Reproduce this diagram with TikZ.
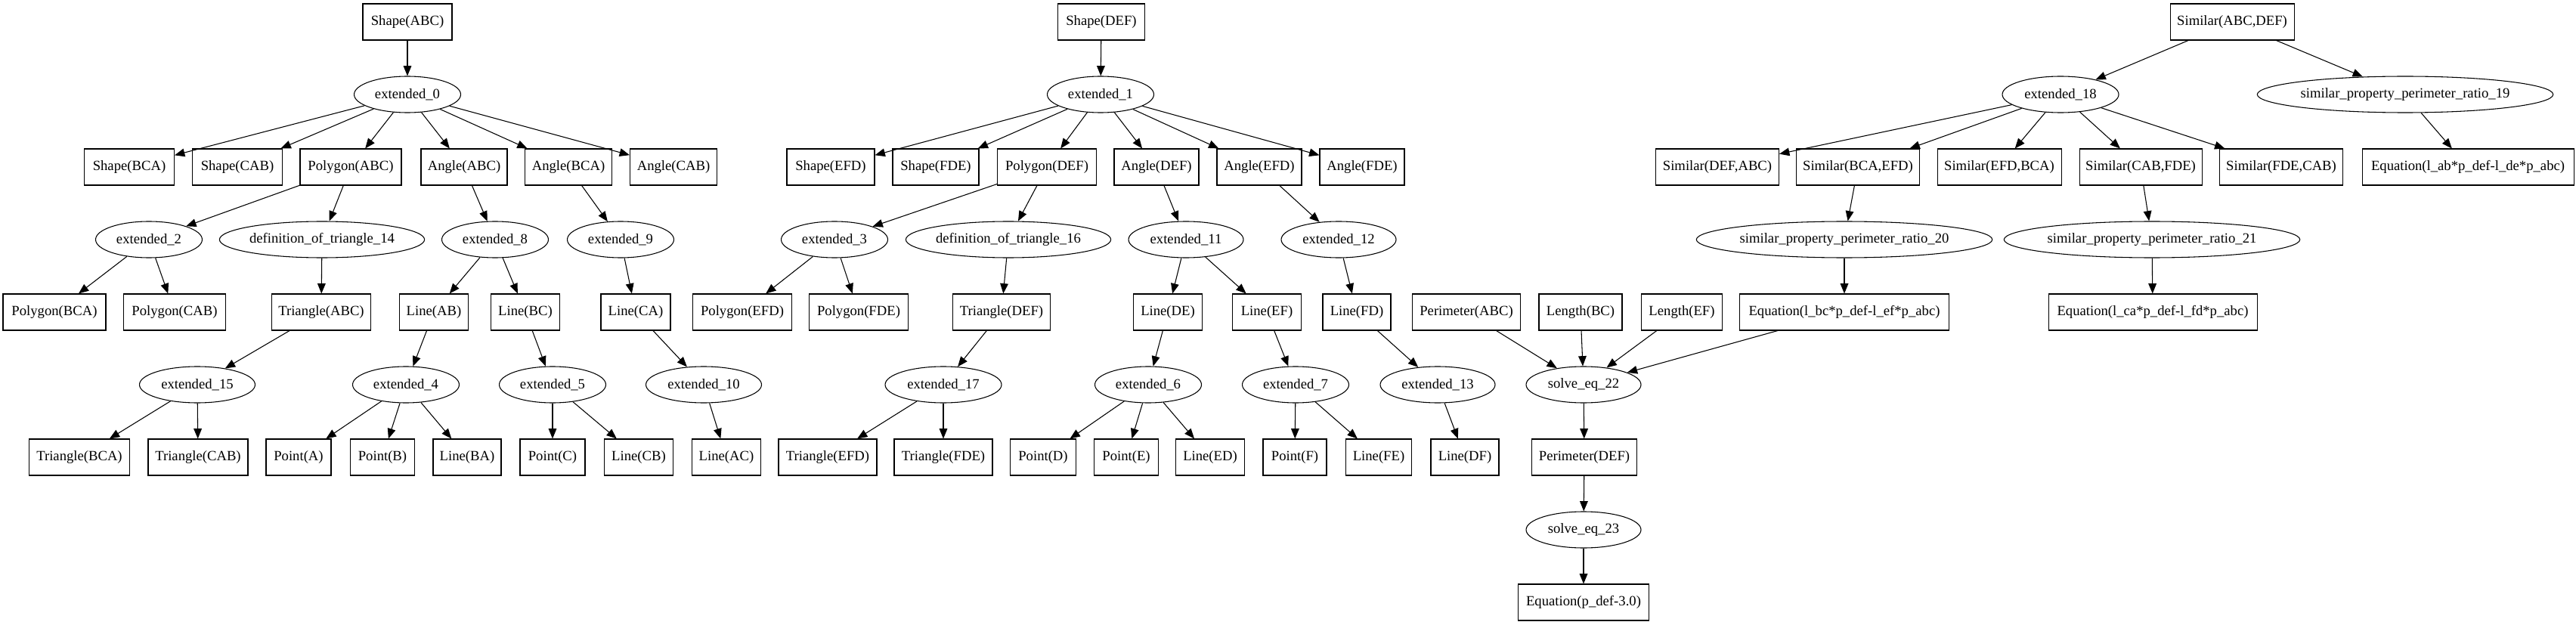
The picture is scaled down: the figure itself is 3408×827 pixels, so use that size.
\documentclass[tikz,border=0pt]{standalone}
\usepackage{fontspec}
\setmainfont{Liberation Serif}
\usetikzlibrary{shapes.geometric,arrows.meta}
\begin{document}
\begin{tikzpicture}[x=0.75pt,y=-0.75pt,
  bx/.style={draw, rectangle, line width=0.8pt, minimum height=36pt, minimum width=#1*0.75pt, inner sep=0pt, font=\fontsize{14pt}{16pt}\selectfont},
  el/.style={draw, ellipse, line width=0.8pt, minimum height=36pt, minimum width=#1*0.75pt, inner sep=0pt, font=\fontsize{14pt}{16pt}\selectfont},
  conn/.style={-{Triangle[length=10pt,width=8pt]}, line width=0.8pt}]
\useasboundingbox (0,0) rectangle (3408,827);
% rank 0
\node[bx=118] (sABC) at (539,29) {Shape(ABC)};
\node[bx=115] (sDEF) at (1457,29) {Shape(DEF)};
\node[bx=164] (simABCDEF) at (2953,29) {Similar(ABC,DEF)};
% rank 1
\node[el=141] (e0) at (539,125) {extended\_0};
\node[el=141] (e1) at (1456,125) {extended\_1};
\node[el=154] (e18) at (2726,125) {extended\_18};
\node[el=385] (spr19) at (3182,125) {similar\_property\_perimeter\_ratio\_19};
% rank 2
\node[bx=119] (sBCA) at (171,221) {Shape(BCA)};
\node[bx=119] (sCAB) at (314,221) {Shape(CAB)};
\node[bx=134] (pABC) at (464,221) {Polygon(ABC)};
\node[bx=114] (aABC) at (614,221) {Angle(ABC)};
\node[bx=115] (aBCA) at (752,221) {Angle(BCA)};
\node[bx=115] (aCAB) at (891,221) {Angle(CAB)};
\node[bx=116] (sEFD) at (1099,221) {Shape(EFD)};
\node[bx=114] (sFDE) at (1238,221) {Shape(FDE)};
\node[bx=131] (pDEF) at (1385,221) {Polygon(DEF)};
\node[bx=112] (aDEF) at (1530,221) {Angle(DEF)};
\node[bx=112] (aEFD) at (1666,221) {Angle(EFD)};
\node[bx=112] (aFDE) at (1802,221) {Angle(FDE)};
\node[bx=163] (simDEFABC) at (2272,221) {Similar(DEF,ABC)};
\node[bx=163] (simBCAEFD) at (2458,221) {Similar(BCA,EFD)};
\node[bx=164] (simEFDBCA) at (2645,221) {Similar(EFD,BCA)};
\node[bx=162] (simCABFDE) at (2832,221) {Similar(CAB,FDE)};
\node[bx=163] (simFDECAB) at (3018,221) {Similar(FDE,CAB)};
\node[bx=280] (eqAB) at (3265,221) {Equation(l\_ab*p\_def-l\_de*p\_abc)};
% rank 3
\node[el=141] (e2) at (197,317) {extended\_2};
\node[el=270] (dt14) at (426,317) {definition\_of\_triangle\_14};
\node[el=141] (e8) at (655,317) {extended\_8};
\node[el=141] (e9) at (821,317) {extended\_9};
\node[el=141] (e3) at (1104,317) {extended\_3};
\node[el=271] (dt16) at (1334,317) {definition\_of\_triangle\_16};
\node[el=152] (e11) at (1569,317) {extended\_11};
\node[el=152] (e12) at (1771,317) {extended\_12};
\node[el=383] (spr20) at (2440,317) {similar\_property\_perimeter\_ratio\_20};
\node[el=384] (spr21) at (2847,317) {similar\_property\_perimeter\_ratio\_21};
% rank 4
\node[bx=136] (pBCA) at (72,413) {Polygon(BCA)};
\node[bx=135] (pCAB) at (231,413) {Polygon(CAB)};
\node[bx=131] (tABC) at (425,413) {Triangle(ABC)};
\node[bx=91] (lAB) at (574,413) {Line(AB)};
\node[bx=91] (lBC) at (695,413) {Line(BC)};
\node[bx=92] (lCA) at (841,413) {Line(CA)};
\node[bx=131] (pEFD) at (982,413) {Polygon(EFD)};
\node[bx=131] (pFDE) at (1136,413) {Polygon(FDE)};
\node[bx=129] (tDEF) at (1325,413) {Triangle(DEF)};
\node[bx=91] (lDE) at (1545,413) {Line(DE)};
\node[bx=91] (lEF) at (1676,413) {Line(EF)};
\node[bx=90] (lFD) at (1795,413) {Line(FD)};
\node[bx=143] (perABC) at (1940,413) {Perimeter(ABC)};
\node[bx=110] (lenBC) at (2091,413) {Length(BC)};
\node[bx=107] (lenEF) at (2225,413) {Length(EF)};
\node[bx=277] (eqBC) at (2440,413) {Equation(l\_bc*p\_def-l\_ef*p\_abc)};
\node[bx=276] (eqCA) at (2848,413) {Equation(l\_ca*p\_def-l\_fd*p\_abc)};
% rank 5
\node[el=153] (e15) at (261,509) {extended\_15};
\node[el=141] (e4) at (537,509) {extended\_4};
\node[el=141] (e5) at (731,509) {extended\_5};
\node[el=153] (e10) at (931,509) {extended\_10};
\node[el=154] (e17) at (1248,509) {extended\_17};
\node[el=141] (e6) at (1519,509) {extended\_6};
\node[el=141] (e7) at (1714,509) {extended\_7};
\node[el=152] (e13) at (1902,509) {extended\_13};
\node[el=152] (se22) at (2095,509) {solve\_eq\_22};
% rank 6
\node[bx=133] (tBCA) at (105,605) {Triangle(BCA)};
\node[bx=132] (tCAB) at (262,605) {Triangle(CAB)};
\node[bx=86] (ptA) at (395,605) {Point(A)};
\node[bx=85] (ptB) at (506,605) {Point(B)};
\node[bx=90] (lBA) at (618,605) {Line(BA)};
\node[bx=86] (ptC) at (731,605) {Point(C)};
\node[bx=91] (lCB) at (845,605) {Line(CB)};
\node[bx=91] (lAC) at (961,605) {Line(AC)};
\node[bx=130] (tEFD) at (1095,605) {Triangle(EFD)};
\node[bx=130] (tFDE) at (1248,605) {Triangle(FDE)};
\node[bx=87] (ptD) at (1380,605) {Point(D)};
\node[bx=85] (ptE) at (1490,605) {Point(E)};
\node[bx=91] (lED) at (1601,605) {Line(ED)};
\node[bx=84] (ptF) at (1713,605) {Point(F)};
\node[bx=87] (lFE) at (1824,605) {Line(FE)};
\node[bx=90] (lDF) at (1938,605) {Line(DF)};
\node[bx=139] (perDEF) at (2096,605) {Perimeter(DEF)};
% rank 7, 8
\node[el=152] (se23) at (2095,701) {solve\_eq\_23};
\node[bx=173] (eqP) at (2095,797) {Equation(p\_def-3.0)};
% connectors
\foreach \a/\b in {sABC/e0, e0/sBCA, e0/sCAB, e0/pABC, e0/aABC, e0/aBCA, e0/aCAB,
  pABC/e2, pABC/dt14, e2/pBCA, e2/pCAB, dt14/tABC, aABC/e8, e8/lAB, e8/lBC, aBCA/e9, e9/lCA,
  tABC/e15, e15/tBCA, e15/tCAB, lAB/e4, e4/ptA, e4/ptB, e4/lBA, lBC/e5, e5/ptC, e5/lCB, lCA/e10, e10/lAC,
  sDEF/e1, e1/sEFD, e1/sFDE, e1/pDEF, e1/aDEF, e1/aEFD, e1/aFDE,
  pDEF/e3, pDEF/dt16, e3/pEFD, e3/pFDE, dt16/tDEF, aDEF/e11, e11/lDE, e11/lEF, aEFD/e12, e12/lFD,
  tDEF/e17, e17/tEFD, e17/tFDE, lDE/e6, e6/ptD, e6/ptE, e6/lED, lEF/e7, e7/ptF, e7/lFE, lFD/e13, e13/lDF,
  simABCDEF/e18, simABCDEF/spr19, e18/simDEFABC, e18/simBCAEFD, e18/simEFDBCA, e18/simCABFDE, e18/simFDECAB,
  spr19/eqAB, simBCAEFD/spr20, spr20/eqBC, simCABFDE/spr21, spr21/eqCA,
  perABC/se22, lenBC/se22, lenEF/se22, eqBC/se22, se22/perDEF, perDEF/se23, se23/eqP}
  \draw[conn] (\a) -- (\b);
\end{tikzpicture}
\end{document}
